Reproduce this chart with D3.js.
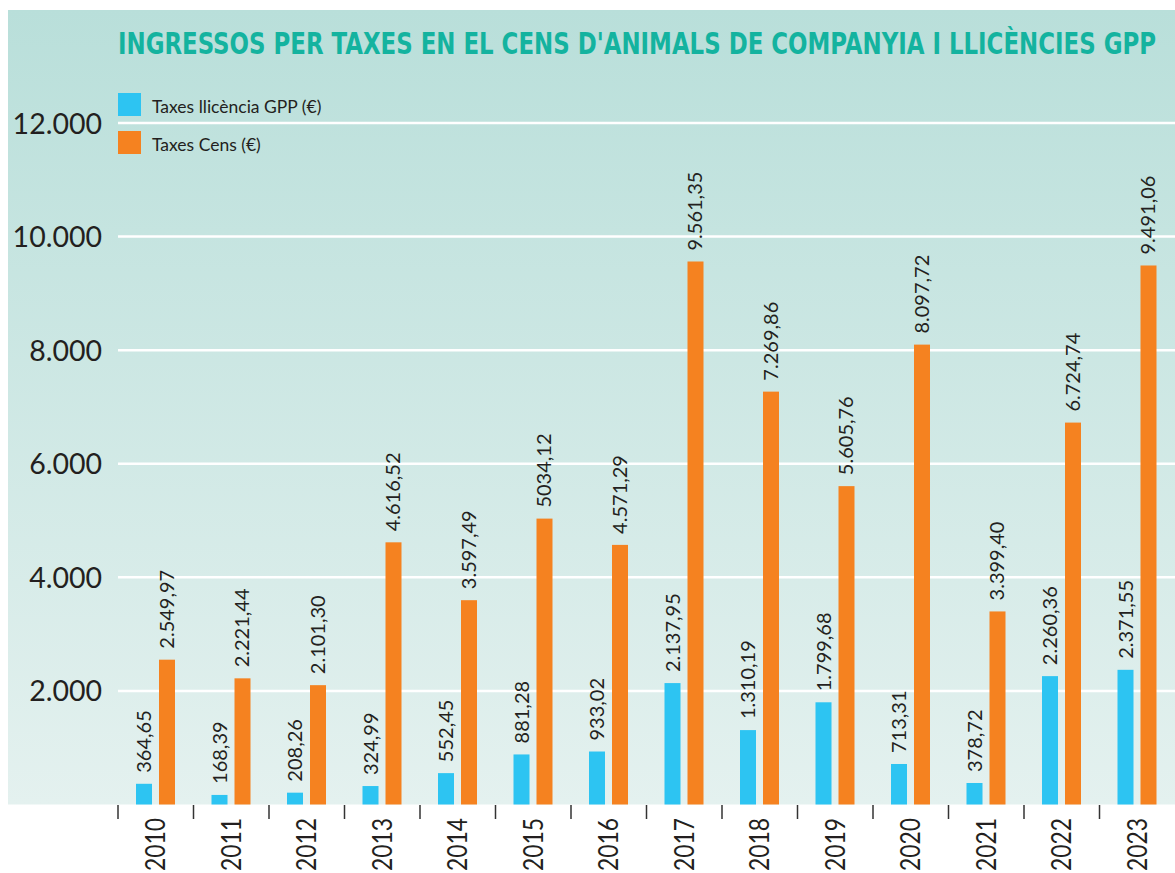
<!DOCTYPE html>
<html><head><meta charset="utf-8">
<script src="https://cdn.jsdelivr.net/npm/d3@7"></script>
<style>body{margin:0;background:#fff;}svg{display:block;}</style>
</head><body>
<svg id="c" width="1175" height="873"></svg>
<script>
const years = ["2010","2011","2012","2013","2014","2015","2016","2017","2018","2019","2020","2021","2022","2023"];
const gppValues = [364.65,168.39,208.26,324.99,552.45,881.28,933.02,2137.95,1310.19,1799.68,713.31,378.72,2260.36,2371.55];
const censValues = [2549.97,2221.44,2101.30,4616.52,3597.49,5034.12,4571.29,9561.35,7269.86,5605.76,8097.72,3399.40,6724.74,9491.06];
const gppLabels = ["364,65","168,39","208,26","324,99","552,45","881,28","933,02","2.137,95","1.310,19","1.799,68","713,31","378,72","2.260,36","2.371,55"];
const censLabels = ["2.549,97","2.221,44","2.101,30","4.616,52","3.597,49","5034,12","4.571,29","9.561,35","7.269,86","5.605,76","8.097,72","3.399,40","6.724,74","9.491,06"];
const yTicks = [2000,4000,6000,8000,10000,12000];
const yTickLabels = ["2.000","4.000","6.000","8.000","10.000","12.000"];
const seriesNames = ["Taxes llicència GPP (€)","Taxes Cens  (€)"];
const colors = ["#2dc4f2","#f58220"];

const svg = d3.select("#c");
const defs = svg.append("defs");
const grad = defs.append("linearGradient").attr("id","bg").attr("x1",0).attr("y1",0).attr("x2",0).attr("y2",1);
grad.append("stop").attr("offset","0%").attr("stop-color","#b9dfda");
grad.append("stop").attr("offset","100%").attr("stop-color","#e4f1ef");
svg.append("rect").attr("x",8).attr("y",10).attr("width",1167).attr("height",794.5).attr("fill","url(#bg)");

const x = d3.scaleBand().domain(years).range([118,1175]).padding(0);
const xi = d3.scaleBand().domain(["gpp","cens"]).range([18,57]).paddingInner(0.3043).paddingOuter(0);
const y = d3.scaleLinear().domain([0,12000]).range([804.5,123]);

// gridlines
svg.append("g").selectAll("line").data(yTicks).join("line")
  .attr("x1",118).attr("x2",1175).attr("y1",d=>y(d)).attr("y2",d=>y(d))
  .attr("stroke","#fff").attr("stroke-width",2.5);

// y labels
svg.append("g").selectAll("text").data(yTicks).join("text")
  .attr("x",102).attr("y",d=>y(d)+10.5).attr("text-anchor","end")
  .attr("font-family","Lato, 'Open Sans', sans-serif").attr("font-size",28.5)
  .attr("fill","#231f20").text((d,i)=>yTickLabels[i]);

// bars
const series = [{key:"gpp",vals:gppValues,labels:gppLabels,color:colors[0]},{key:"cens",vals:censValues,labels:censLabels,color:colors[1]}];
series.forEach(s=>{
  const g = svg.append("g");
  g.selectAll("rect").data(years).join("rect")
    .attr("x",(d)=>x(d)+xi(s.key)).attr("width",xi.bandwidth())
    .attr("y",(d,i)=>y(s.vals[i])).attr("height",(d,i)=>y(0)-y(s.vals[i]))
    .attr("fill",s.color);
  g.selectAll("text").data(years).join("text")
    .attr("transform",(d,i)=>`translate(${x(d)+xi(s.key)+xi.bandwidth()/2+7},${y(s.vals[i])-11}) rotate(-90)`)
    .attr("font-family","Lato, 'Open Sans', sans-serif").attr("font-size",20)
    .attr("fill","#231f20").text((d,i)=>s.labels[i]);
});

// x ticks
svg.append("g").selectAll("line").data(years).join("line")
  .attr("x1",d=>x(d)).attr("x2",d=>x(d)).attr("y1",805).attr("y2",819)
  .attr("stroke","#333").attr("stroke-width",1.5);

// year labels
svg.append("g").selectAll("text").data(years).join("text")
  .attr("transform",d=>`translate(${x(d)+x.bandwidth()/2+9.5},818) rotate(-90)`)
  .attr("text-anchor","end")
  .attr("font-family","Lato, 'Open Sans', sans-serif").attr("font-size",27)
  .attr("textLength",53).attr("lengthAdjust","spacingAndGlyphs")
  .attr("fill","#231f20").text(d=>d);

// legend
seriesNames.forEach((n,i)=>{
  svg.append("rect").attr("x",118).attr("y",93+i*38).attr("width",23).attr("height",23).attr("fill",colors[i]);
  svg.append("text").attr("x",152).attr("y",113+i*38)
    .attr("font-family","Lato, 'Open Sans', sans-serif").attr("font-size",17.5).attr("fill","#231f20").text(n);
});

// title
svg.append("text").attr("transform","translate(118,54) scale(1,1.24)")
  .attr("font-family","'Liberation Sans Narrow','DejaVu Sans Condensed',sans-serif").attr("font-weight","bold")
  .attr("font-size",25).attr("fill","#14b39f")
  .attr("textLength",1038).attr("lengthAdjust","spacingAndGlyphs")
  .text("INGRESSOS PER TAXES EN EL CENS D'ANIMALS DE COMPANYIA I LLICÈNCIES GPP");
</script>
</body></html>
